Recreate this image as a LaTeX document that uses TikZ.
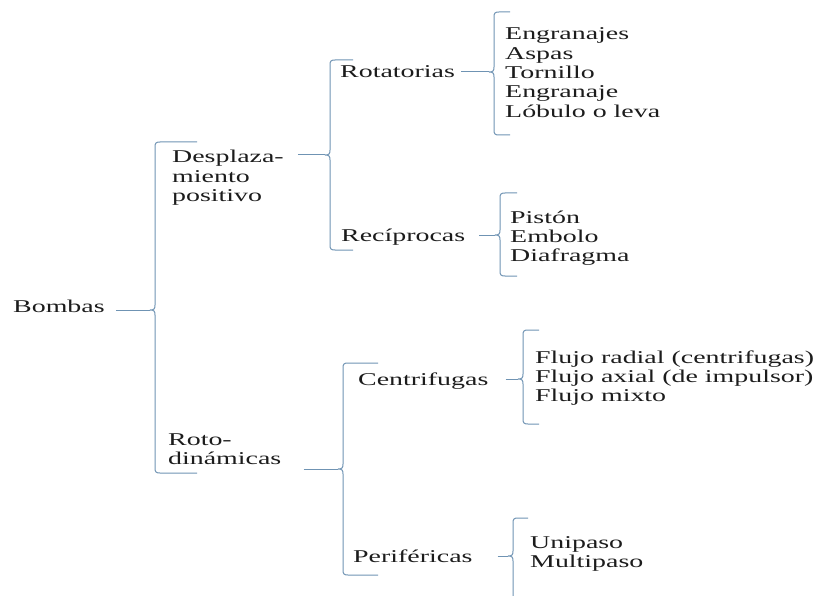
\documentclass[tikz,border=0pt]{standalone}
\usepackage{fontspec}
\setmainfont{Liberation Serif}[FakeStretch=1.55]
\definecolor{brc}{HTML}{6F93B3}
\definecolor{txt}{HTML}{1C1C1C}
\newcommand\ml[1]{\begin{tabular}[t]{@{}l@{}}#1\end{tabular}}
\newcommand\cbrace[6]{%
  \draw[br] (#6,#3) -- (#2+5,#3) .. controls (#2+1,#3) and (#2,#3+1) .. (#2,#3+5)
    -- (#2,#5-5) .. controls (#2,#5-1) and (#2-1,#5) .. (#2-5,#5)
    .. controls (#2-1,#5) and (#2,#5+1) .. (#2,#5+5)
    -- (#2,#4-5) .. controls (#2,#4-1) and (#2+1,#4) .. (#2+5,#4) -- (#6,#4);
  \coordinate (#1) at (#2-5,#5);}
\begin{document}
\begin{tikzpicture}[x=1pt,y=-1pt,
  lbl/.style={inner sep=0pt, anchor=base west, text=txt,
    font=\fontsize{18}{19.3}\selectfont},
  br/.style={draw=brc, line width=1pt},
  conn/.style={draw=brc, line width=1pt}]
\useasboundingbox (0,0) rectangle (827,596);
\clip (0,0) rectangle (827,596);
% texts
\node[lbl] (bombas) at (13,312) {Bombas};
\node[lbl] (desp) at (172,163) {\ml{Desplaza-\\miento\\positivo}};
\node[lbl] (roto) at (168,445) {\ml{Roto-\\dinámicas}};
\node[lbl] (rot) at (340,78) {Rotatorias};
\node[lbl] (rec) at (341,241) {Recíprocas};
\node[lbl] (cen) at (358,385) {Centrifugas};
\node[lbl] (per) at (353,562) {Periféricas};
\node[lbl] (rotl) at (505,40) {\ml{Engranajes\\Aspas\\Tornillo\\Engranaje\\Lóbulo o leva}};
\node[lbl] (recl) at (510,223) {\ml{Pistón\\Embolo\\Diafragma}};
\node[lbl] (cenl) at (535,363) {\ml{Flujo radial (centrifugas)\\Flujo axial (de impulsor)\\Flujo mixto}};
\node[lbl] (perl) at (530,548) {\ml{Unipaso\\Multipaso}};
% braces
\cbrace{t0}{155}{142}{473}{310}{197}
\cbrace{t1}{330}{60}{250}{155}{353}
\cbrace{t2}{494}{12}{135}{72}{510}
\cbrace{t3}{500}{193}{276}{235}{517}
\cbrace{t4}{343}{363}{575}{469}{378}
\cbrace{t5}{523}{330}{424}{379}{539}
\cbrace{t6}{513}{518}{640}{556}{528}
% connectors
\draw[conn] ([xshift=11pt]bombas.east |- t0) -- (t0);
\draw[conn] ([xshift=14pt]desp.east |- t1) -- (t1);
\draw[conn] ([xshift=22pt]roto.east |- t4) -- (t4);
\draw[conn] ([xshift=6pt]rot.east |- t2) -- (t2);
\draw[conn] ([xshift=14pt]rec.east |- t3) -- (t3);
\draw[conn] ([xshift=17pt]cen.east |- t5) -- (t5);
\draw[conn] ([xshift=25pt]per.east |- t6) -- (t6);
\end{tikzpicture}
\end{document}
